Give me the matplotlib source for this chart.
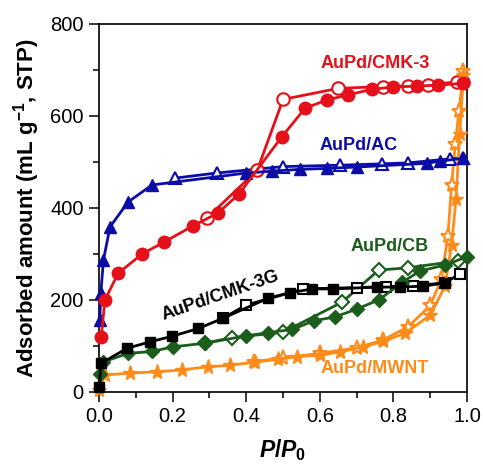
import numpy as np
import matplotlib
matplotlib.use("Agg")
import matplotlib.pyplot as plt

plt.rcParams['font.family'] = ['Liberation Sans', 'DejaVu Sans']
plt.rcParams['mathtext.fontset'] = 'custom'
plt.rcParams['mathtext.rm'] = 'Liberation Sans:bold'
plt.rcParams['mathtext.it'] = 'Liberation Sans:italic:bold'
plt.rcParams['mathtext.bf'] = 'Liberation Sans:bold'

# N2 isotherms: adsorption (filled) and desorption (open) branches
cmk3_ads_x = [0.006, 0.016, 0.052, 0.117, 0.177, 0.255, 0.323, 0.380, 0.497, 0.56, 0.62, 0.677, 0.742, 0.80, 0.864, 0.92, 0.99]
cmk3_ads_y = [120, 200, 258, 300, 326, 361, 389, 430, 555, 617, 635, 646, 658, 663, 665, 667, 671]
cmk3_des_x = [0.99, 0.973, 0.894, 0.84, 0.772, 0.65, 0.50, 0.43, 0.293]
cmk3_des_y = [674, 674, 668, 665, 664, 660, 636, 482, 378]

ac_ads_x = [0.002, 0.005, 0.012, 0.03, 0.079, 0.144, 0.40, 0.47, 0.546, 0.62, 0.70, 0.89, 0.927, 0.99]
ac_ads_y = [157, 215, 287, 359, 413, 450, 476, 480, 484, 486, 489, 497, 502, 508]
ac_des_x = [0.99, 0.955, 0.84, 0.77, 0.655, 0.50, 0.32, 0.207]
ac_des_y = [508, 507, 498, 496, 493, 490, 476, 465]

cmk3g_ads_x = [0.001, 0.005, 0.076, 0.139, 0.198, 0.27, 0.336, 0.46, 0.52, 0.58, 0.636, 0.755, 0.818, 0.88, 0.94]
cmk3g_ads_y = [10, 62, 95, 109, 121, 138, 160, 204, 216, 224, 224, 228, 228, 230, 237]
cmk3g_des_x = [0.98, 0.94, 0.853, 0.78, 0.70, 0.555, 0.40, 0.336]
cmk3g_des_y = [257, 237, 231, 229, 227, 224, 189, 160]

cb_ads_x = [0.002, 0.011, 0.079, 0.144, 0.20, 0.288, 0.40, 0.46, 0.525, 0.585, 0.64, 0.70, 0.762, 0.823, 0.872, 0.94, 1.0]
cb_ads_y = [40, 65, 84, 88, 98, 106, 122, 129, 136, 155, 163, 180, 201, 238, 263, 276, 294]
cb_des_x = [0.976, 0.84, 0.76, 0.66, 0.50, 0.36, 0.288]
cb_des_y = [285, 270, 265, 195, 130, 118, 106]

mwnt_ads_x = [0.001, 0.016, 0.084, 0.157, 0.226, 0.297, 0.356, 0.424, 0.487, 0.537, 0.60, 0.655, 0.717, 0.772, 0.832, 0.90, 0.94, 0.958, 0.97, 0.98, 0.99]
mwnt_ads_y = [5, 37, 41, 44, 48, 55, 58, 65, 71, 77, 80, 87, 98, 110, 128, 167, 230, 320, 420, 560, 690]
mwnt_des_x = [0.99, 0.978, 0.968, 0.958, 0.948, 0.93, 0.90, 0.84, 0.772, 0.70, 0.60, 0.50, 0.42]
mwnt_des_y = [698, 610, 540, 450, 340, 245, 188, 142, 113, 96, 84, 74, 66]

red = '#e5101a'
blue = '#0c0ca8'
green = '#1b5e1b'
orange = '#ff8c1a'

fig = plt.figure(figsize=(4.83, 4.70), dpi=100)
ax = fig.add_axes([0.205, 0.166, 0.762, 0.783])

def iso(ax, xa, ya, xd, yd, color, marker, ms):
    ax.plot(xd, yd, color=color, lw=2.0, marker=marker, ms=ms, mfc='white',
            mec=color, mew=1.5, clip_on=False, zorder=3)
    ax.plot(xa, ya, color=color, lw=2.0, marker=marker, ms=ms, mfc=color,
            mec=color, mew=1.0, clip_on=False, zorder=4)

iso(ax, mwnt_ads_x, mwnt_ads_y, mwnt_des_x, mwnt_des_y, orange, '*', 11)
iso(ax, cb_ads_x, cb_ads_y, cb_des_x, cb_des_y, green, 'D', 7.5)
iso(ax, cmk3g_ads_x, cmk3g_ads_y, cmk3g_des_x, cmk3g_des_y, 'black', 's', 7.5)
iso(ax, ac_ads_x, ac_ads_y, ac_des_x, ac_des_y, blue, '^', 9)
iso(ax, cmk3_ads_x, cmk3_ads_y, cmk3_des_x, cmk3_des_y, red, 'o', 9)

fs = 13
fw = 'bold'
ax.text(0.75, 713, 'AuPd/CMK-3', color=red, fontsize=fs, fontweight=fw, ha='center', va='center')
ax.text(0.705, 535, 'AuPd/AC', color=blue, fontsize=fs, fontweight=fw, ha='center', va='center')
ax.text(0.79, 317, 'AuPd/CB', color=green, fontsize=fs, fontweight=fw, ha='center', va='center')
ax.text(0.33, 209, 'AuPd/CMK-3G', color='black', fontsize=fs, fontweight=fw, ha='center',
        va='center', rotation=19)
ax.text(0.75, 52, 'AuPd/MWNT', color=orange, fontsize=fs, fontweight=fw, ha='center', va='center')

ax.set_xlim(0, 1.0)
ax.set_ylim(0, 800)
ax.set_xticks(np.arange(0, 1.01, 0.2))
ax.set_xticks(np.arange(0, 1.01, 0.1), minor=True)
ax.set_yticks(np.arange(0, 801, 200))
ax.set_yticks(np.arange(0, 801, 100), minor=True)
ax.tick_params(which='both', direction='out', top=False, right=False, width=1.1,
               labelsize=14.5, pad=4)
ax.tick_params(which='major', length=7)
ax.tick_params(which='minor', length=4)
for s in ax.spines.values():
    s.set_linewidth(1.2)

ax.set_xlabel(r'$P/P_0$', fontsize=16.5, labelpad=8)
ax.set_ylabel(r'Adsorbed amount (mL g$^{-1}$, STP)', fontsize=16, fontweight='bold',
              labelpad=6)

fig.savefig('out.png', dpi=100)
